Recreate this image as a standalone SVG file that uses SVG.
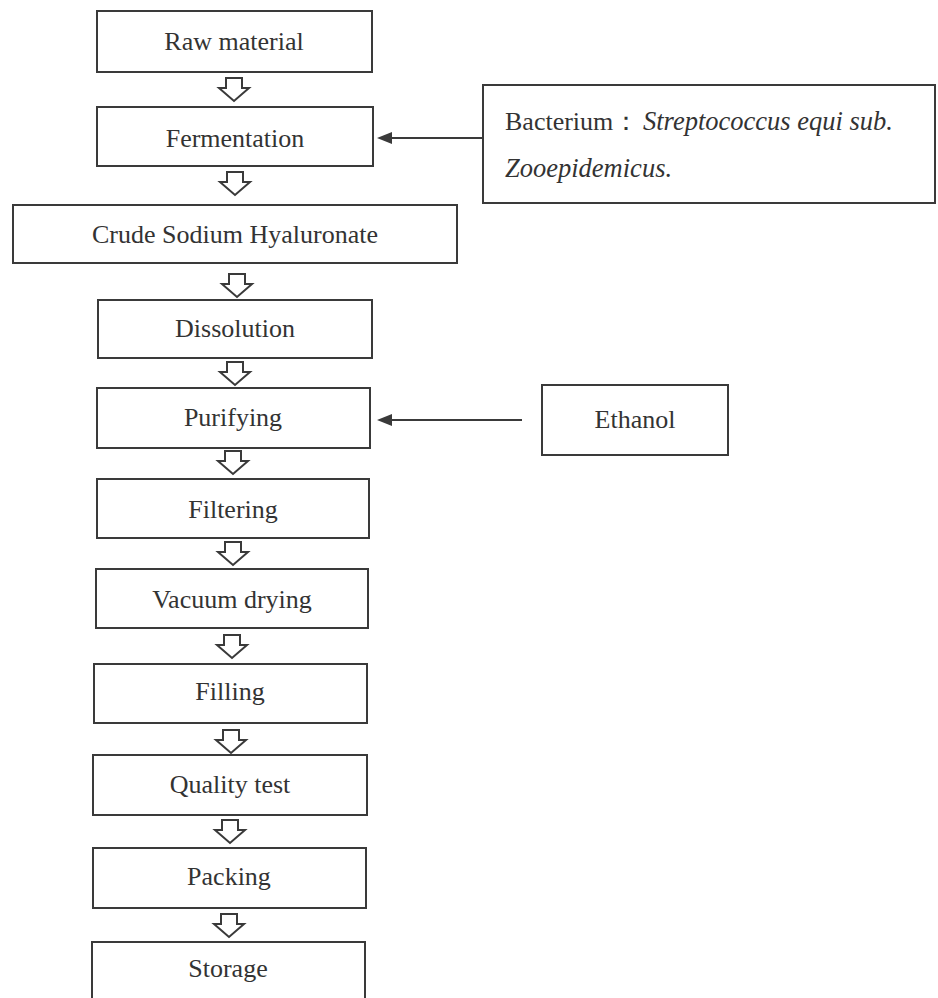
<svg xmlns="http://www.w3.org/2000/svg" width="938" height="998" viewBox="0 0 938 998">
<defs>
<style>
.box{fill:#fff;stroke:#3a3a3a;stroke-width:2}
.t{font-family:"Liberation Serif","Times New Roman",serif;font-size:26px;fill:#333;text-anchor:middle}
.tl{font-family:"Liberation Serif","Times New Roman",serif;font-size:26px;fill:#333}
.it{font-style:italic;font-size:26.5px}
.flow{fill:#fff;stroke:#3a3a3a;stroke-width:2;stroke-linejoin:miter}
.conn{stroke:#3a3a3a;stroke-width:2.2;fill:none}
.head{fill:#3a3a3a}
</style>
<path id="harrow" d="M-8,0 H8 V10 H15 L0,23 L-15,10 H-8 Z"/>
<path id="lhead" d="M0,0 L15,-6 L15,6 Z"/>
</defs>
<rect width="938" height="998" fill="#fff"/>

<g id="raw-material"><rect class="box" x="97" y="11" width="275" height="61"/><text class="t" x="234" y="50">Raw material</text></g>
<g id="fermentation"><rect class="box" x="97" y="107" width="276" height="59"/><text class="t" x="235" y="147">Fermentation</text></g>
<g id="bacterium"><rect class="box" x="483" y="85" width="452" height="118"/>
<text class="tl" x="505" y="130">Bacterium：<tspan class="it" x="643">Streptococcus equi sub.</tspan></text>
<text class="tl it" x="505" y="177">Zooepidemicus.</text></g>
<g id="crude"><rect class="box" x="13" y="205" width="444" height="58"/><text class="t" x="235" y="243">Crude Sodium Hyaluronate</text></g>
<g id="dissolution"><rect class="box" x="98" y="300" width="274" height="58"/><text class="t" x="235" y="337">Dissolution</text></g>
<g id="purifying"><rect class="box" x="97" y="388" width="273" height="60"/><text class="t" x="233" y="426">Purifying</text></g>
<g id="ethanol"><rect class="box" x="542" y="385" width="186" height="70"/><text class="t" x="635" y="428">Ethanol</text></g>
<g id="filtering"><rect class="box" x="97" y="479" width="272" height="59"/><text class="t" x="233" y="518">Filtering</text></g>
<g id="vacuum-drying"><rect class="box" x="96" y="569" width="272" height="59"/><text class="t" x="232" y="608">Vacuum drying</text></g>
<g id="filling"><rect class="box" x="94" y="664" width="273" height="59"/><text class="t" x="230" y="700">Filling</text></g>
<g id="quality-test"><rect class="box" x="93" y="755" width="274" height="60"/><text class="t" x="230" y="793">Quality test</text></g>
<g id="packing"><rect class="box" x="93" y="848" width="273" height="60"/><text class="t" x="229" y="885">Packing</text></g>
<g id="storage"><rect class="box" x="92" y="942" width="273" height="70"/><text class="t" x="228" y="977">Storage</text></g>

<g id="connectors">
<use href="#harrow" class="flow" transform="translate(234,78)"/>
<use href="#harrow" class="flow" transform="translate(235,172)"/>
<use href="#harrow" class="flow" transform="translate(237,274)"/>
<use href="#harrow" class="flow" transform="translate(235,362)"/>
<use href="#harrow" class="flow" transform="translate(233,451)"/>
<use href="#harrow" class="flow" transform="translate(233,542)"/>
<use href="#harrow" class="flow" transform="translate(232,635)"/>
<use href="#harrow" class="flow" transform="translate(231,730)"/>
<use href="#harrow" class="flow" transform="translate(230,820)"/>
<use href="#harrow" class="flow" transform="translate(229,914)"/>
<line class="conn" x1="483" y1="138" x2="388" y2="138"/>
<use href="#lhead" class="head" transform="translate(377,138)"/>
<line class="conn" x1="522" y1="420" x2="388" y2="420"/>
<use href="#lhead" class="head" transform="translate(377,420)"/>
</g>
</svg>
